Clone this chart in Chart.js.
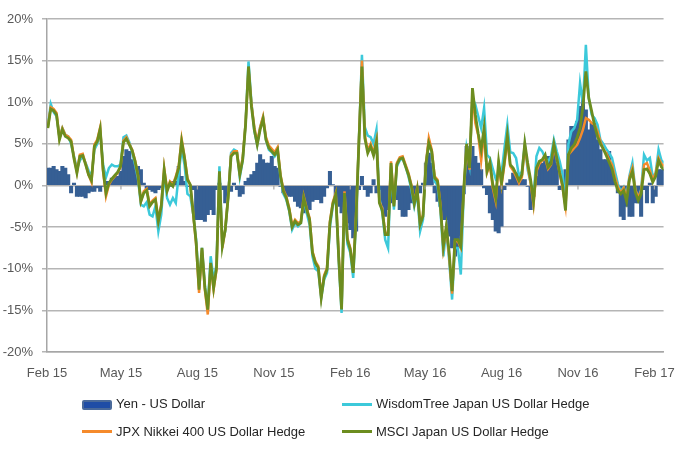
<!DOCTYPE html>
<html>
<head>
<meta charset="utf-8">
<script src="https://cdn.jsdelivr.net/npm/chart.js@4.4.1/dist/chart.umd.min.js"></script>
<style>
  html, body { margin: 0; padding: 0; background: #ffffff; }
  #wrap { position: relative; width: 689px; height: 458px; overflow: hidden; }
  canvas { position: absolute; left: 0; top: 0; }
  .lg-text { position: absolute; font-family: "Liberation Sans", Arial, sans-serif; font-size: 13px; line-height: 16px; color: #262626; white-space: nowrap; }
  .lg-box { position: absolute; box-sizing: border-box; }
</style>
</head>
<body>
<div id="wrap">
  <canvas id="chart" width="689" height="458"></canvas>
  <div id="legend"></div>
</div>
<script>
// ---- Data, percent values, one sample every 3.5 days from 2 Feb 2015 ----
const seriesNames = ['Yen - US Dollar', 'WisdomTree Japan US Dollar Hedge', 'JPX Nikkei 400 US Dollar Hedge', 'MSCI Japan US Dollar Hedge'];

const tickLabels = ['Feb 15', 'May 15', 'Aug 15', 'Nov 15', 'Feb 16', 'May 16', 'Aug 16', 'Nov 16', 'Feb 17'];
const tickDays = [0, 89, 181, 273, 365, 455, 547, 639, 731]; // days after 1 Feb 2015
const yTickValues = [-20, -15, -10, -5, 0, 5, 10, 15, 20];

const yenUsd = [
  2.1, 2.1, 2.3, 1.9, 1.7, 2.3, 2.1, 1.3, -0.9, 0.3,
  -1.3, -1.3, -1.3, -1.5, -0.9, -0.7, -0.7, -0.3, -0.7, -0.1,
  0.5, 0.5, 0.9, 1.1, 1.1, 1.7, 3.5, 4.3, 4.1, 3.1,
  2.5, 2.3, 1.9, 0.3, -0.5, -0.5, -0.7, -0.9, -0.5, -0.3,
  -0.1, -0.1, -0.1, 0.5, 0.5, 2.3, 1.1, 0.5, -0.1, -0.1,
  -0.5, -4.1, -4.1, -4.1, -4.3, -3.5, -2.9, -3.5, -0.5, 0.3,
  -0.5, -2.1, -0.5, -0.7, 0.3, -0.5, -1.3, -1.0, 0.5, 0.9,
  1.3, 1.7, 2.7, 3.7, 3.1, 2.7, 2.7, 3.5, 2.3, 2.1,
  -0.1, -0.9, -1.1, -1.3, -1.3, -1.9, -2.5, -2.7, -3.3, -3.1,
  -2.9, -1.9, -1.7, -1.7, -2.1, -1.3, -0.3, 1.7, 0.1, -1.7,
  -2.5, -3.3, -4.1, -4.5, -5.3, -6.3, -5.5, -0.5, 1.1, -0.5,
  -1.3, -0.9, 0.7, -0.9, -0.5, -2.5, -3.7, -2.9, -2.1, -1.7,
  -1.7, -2.9, -3.7, -3.7, -2.9, -2.1, -1.7, -0.9, -0.9, 0.3,
  2.7, 3.9, 2.7, -0.9, -1.9, -2.5, -4.1, -4.1, -6.1, -7.5,
  -8.5, -7.5, -6.0, -1.0, 4.7, 4.3, 4.7, 3.5, 2.7, 1.9,
  -0.3, -1.1, -3.3, -4.1, -5.5, -5.7, -4.9, -0.5, 0.3, 0.7,
  1.5, 1.5, 1.1, 0.7, 0.7, -0.1, -2.9, -1.3, 1.1, 2.7,
  2.7, 3.5, 3.5, 3.5, 4.3, 2.7, -0.5, -0.1, 1.9, 5.5,
  7.1, 7.1, 7.7, 9.5, 10.7, 9.1, 6.7, 7.5, 7.5, 5.5,
  4.3, 3.1, 3.1, 4.1, 2.3, 0.7, -0.9, -3.7, -4.1, -2.5,
  -3.7, -3.7, -2.1, -2.1, -3.7, -0.5, -2.1, 0.3, -2.1, -1.3,
  1.9, 1.9, 1.9
];

const wisdomTree = [
  7.0, 9.8, 8.8, 8.3, 5.8, 6.9, 6.1, 5.9, 5.0, 3.5,
  2.0, 3.0, 3.5, 2.7, 1.8, 1.0, 4.3, 5.0, 6.5, 2.5,
  1.0, 2.1, 2.5, 2.3, 2.3, 2.5, 5.8, 6.0, 5.2, 4.0,
  2.5, 0.8, -2.3, -2.5, -2.0, -3.5, -3.7, -2.5, -5.5, -3.5,
  1.5, -1.5, -2.3, -1.5, -2.1, 1.3, 4.5, 2.5, -1.0, -1.3,
  -3.5, -6.5, -12.0, -7.5, -12.0, -14.5, -8.5, -11.5, -9.5, 2.3,
  -7.0, -5.5, -1.3, 3.9, 4.3, 4.1, 1.0, 3.0, 7.5, 14.9,
  10.0, 6.5, 4.9, 7.0, 8.2, 5.5, 4.3, 4.0, 3.5, 4.1,
  1.0, -1.0, -1.7, -3.1, -5.3, -4.5, -4.9, -4.5, -1.7, -3.3,
  -4.7, -8.5, -10.0, -10.3, -13.5, -11.3, -10.5, -5.0, -2.4, -1.3,
  -8.9, -15.3, -1.3, -7.0, -8.1, -11.1, -4.0, 5.8, 15.7, 7.0,
  6.0, 5.8, 5.0, 6.7, -1.5, -3.3, -6.5, -7.5, 2.3, -2.9,
  2.3, 3.0, 3.3, 2.3, 1.1, -0.5, -2.5, -0.9, -5.5, -4.1,
  2.7, 5.3, 3.9, 0.5, 0.0, -3.0, -8.5, -5.3, -9.0, -13.7,
  -7.5, -7.5, -10.7, -1.0, 4.5, 2.5, 10.5, 9.7, 8.3, 6.9,
  9.3, 3.7, 3.3, 2.0, 0.8, 1.3, 1.5, 4.5, 7.3, 4.0,
  3.9, 3.3, 1.1, 1.7, 4.9, 1.9, 0.3, -1.5, 3.5, 4.5,
  4.1, 3.3, 2.9, 3.5, 5.5, 4.1, 2.9, 1.3, -2.0, 5.0,
  6.5, 6.9, 7.9, 12.3, 9.8, 16.9, 10.5, 8.5, 8.1, 7.3,
  5.5, 5.0, 4.4, 3.9, 3.3, 1.7, 0.2, -0.7, -0.2, -1.3,
  1.2, 2.7, -0.5, -1.5, -0.5, 3.7, 3.0, 3.3, 1.0, 1.5,
  4.3, 3.0, 2.7
];

const jpxNikkei = [
  7.0, 9.4, 9.2, 8.7, 5.7, 6.9, 6.1, 5.9, 5.5, 3.4,
  1.6, 3.7, 3.8, 2.6, 1.3, 0.4, 4.9, 5.5, 7.0, 1.7,
  -1.3, 0.1, 0.7, 1.1, 1.5, 2.2, 5.4, 5.8, 5.0, 4.3,
  3.0, 1.2, -1.9, -0.7, -0.4, -2.3, -1.8, -1.5, -4.1, -2.3,
  2.1, -0.5, 0.5, 0.1, 1.1, 2.3, 5.6, 3.5, 0.9, 0.0,
  -3.5, -7.1, -12.9, -7.7, -12.5, -15.5, -9.5, -12.5, -10.1, 1.5,
  -7.5, -5.3, -1.3, 3.7, 4.1, 4.1, 1.5, 3.3, 7.5, 14.0,
  9.8, 7.0, 5.2, 7.0, 8.3, 5.8, 4.8, 4.4, 4.0, 4.6,
  1.3, -0.5, -1.3, -2.7, -4.8, -4.1, -4.5, -4.3, -1.3, -2.7,
  -3.9, -7.9, -9.1, -9.7, -13.3, -10.8, -9.9, -4.3, -2.0, -0.9,
  -8.3, -14.7, -0.7, -6.3, -7.5, -10.3, -3.5, 5.7, 15.0, 6.0,
  4.2, 5.0, 3.9, 5.5, -1.9, -2.8, -5.7, -5.7, 2.9, -2.3,
  2.7, 3.4, 3.5, 2.5, 1.5, 0.1, -2.0, -0.3, -4.5, -3.5,
  2.7, 5.7, 4.3, 1.1, 0.7, -2.3, -7.5, -5.1, -8.5, -13.0,
  -6.7, -6.7, -7.5, -0.7, 4.8, 1.9, 11.0, 7.5, 6.0, 3.0,
  6.3, 1.5, 2.5, -0.3, -1.9, 2.5, 0.0, 2.5, 5.5, 2.3,
  1.8, 1.1, 0.3, 1.0, 4.7, 2.3, 0.3, -2.3, 1.7, 2.6,
  3.0, 3.3, 2.0, 2.5, 4.5, 3.2, 1.5, -0.3, -2.5, 3.7,
  4.1, 4.5, 4.9, 5.7, 6.7, 8.1, 7.9, 7.5, 7.3, 6.5,
  5.3, 4.3, 3.9, 3.1, 2.5, 1.0, -0.2, -0.9, -0.3, -1.5,
  1.0, 2.1, -0.5, -1.5, -0.6, 2.5, 2.7, 1.8, 0.7, 1.5,
  3.3, 2.6, 2.3
];

const msciJapan = [
  6.9, 9.2, 9.0, 8.5, 5.5, 6.7, 5.9, 5.7, 5.3, 3.2,
  1.5, 3.5, 3.6, 2.5, 1.3, 0.6, 4.7, 5.3, 6.8, 1.9,
  -0.9, 0.3, 0.8, 1.2, 1.6, 2.3, 5.2, 5.6, 4.9, 4.2,
  2.9, 1.2, -1.9, -0.9, -0.6, -2.5, -2.0, -1.7, -4.3, -2.5,
  1.9, -0.7, 0.3, -0.1, 0.9, 2.1, 5.3, 3.3, 0.7, 0.1,
  -3.3, -6.9, -12.5, -7.5, -12.3, -14.9, -9.3, -12.3, -9.9, 1.7,
  -7.3, -5.3, -1.5, 3.5, 3.9, 3.9, 1.3, 3.1, 7.3, 14.3,
  9.5, 6.7, 4.9, 6.7, 8.0, 5.5, 4.5, 4.1, 3.7, 4.3,
  1.1, -0.7, -1.5, -2.9, -5.0, -4.3, -4.7, -4.5, -1.5, -2.9,
  -4.1, -8.1, -9.3, -9.9, -13.5, -11.0, -10.1, -4.5, -2.2, -1.1,
  -8.5, -14.9, -0.9, -6.5, -7.7, -10.5, -3.7, 5.5, 14.3, 5.7,
  3.9, 4.7, 3.6, 5.2, -2.1, -3.0, -5.9, -5.9, 2.7, -2.5,
  2.5, 3.2, 3.3, 2.3, 1.3, -0.1, -2.2, -0.5, -4.7, -3.7,
  2.5, 5.1, 4.1, 0.9, 0.5, -2.5, -7.3, -4.9, -8.0, -12.7,
  -6.5, -6.5, -7.3, -0.5, 5.0, 2.1, 11.7, 8.5, 6.2, 4.3,
  6.9, 1.7, 2.8, 0.1, -1.5, 2.9, 0.3, 2.9, 6.0, 2.5,
  2.1, 1.4, 0.6, 1.3, 5.1, 2.7, 0.7, -1.9, 2.1, 2.9,
  3.1, 3.7, 2.2, 2.6, 5.0, 3.3, 1.5, 0.0, -3.0, 3.7,
  4.5, 4.9, 5.8, 6.9, 9.5, 13.7, 10.5, 8.9, 7.2, 5.9,
  5.0, 4.4, 3.6, 2.8, 2.0, 0.5, -0.6, -1.0, -0.6, -1.9,
  0.7, 1.7, -0.8, -1.8, -1.0, 1.9, 2.0, 1.4, 0.4, 1.1,
  3.0, 2.2, 1.9
];

// sample dates: days after 1 Feb 2015 (first sample 2 Feb 2015, every 3.5 days)
const sampleDays = yenUsd.map((_, i) => 1 + 3.5 * i);
const lastDay = 742;

const colors = {
  yen: '#365F94',
  yenLegendFill: '#1F4DA6',
  yenLegendBorder: '#4A6A9A',
  wisdom: '#3CC9DA',
  jpx: '#F58A2B',
  msci: '#6C8D1F'
};

const pts = vals => vals.map((v, i) => ({ x: sampleDays[i], y: v }));
const FONT = '"Liberation Sans", Arial, sans-serif';

// small tick marks on the zero line at each quarter (as the category axis crosses at 0 in the reference)
const zeroTicks = {
  id: 'zeroTicks',
  afterDatasetsDraw(chart) {
    const { ctx, scales: { x, y } } = chart;
    const y0 = y.getPixelForValue(0);
    ctx.save();
    ctx.strokeStyle = '#A6A6A6';
    ctx.lineWidth = 1.2;
    tickDays.forEach(d => {
      const px = x.getPixelForValue(d);
      if (px <= x.left + 1) return;
      ctx.beginPath();
      ctx.moveTo(px, y0);
      ctx.lineTo(px, y0 + 4);
      ctx.stroke();
    });
    ctx.restore();
  }
};

new Chart(document.getElementById('chart'), {
  type: 'bar',
  data: {
    datasets: [
      { type: 'line', label: seriesNames[3], data: pts(msciJapan), borderColor: colors.msci, borderWidth: 2.8, pointRadius: 0, tension: 0, order: 1 },
      { type: 'line', label: seriesNames[2], data: pts(jpxNikkei), borderColor: colors.jpx, borderWidth: 2.5, pointRadius: 0, tension: 0, order: 2 },
      { type: 'line', label: seriesNames[1], data: pts(wisdomTree), borderColor: colors.wisdom, borderWidth: 2.5, pointRadius: 0, tension: 0, order: 3 },
      { type: 'bar', label: seriesNames[0], data: pts(yenUsd), backgroundColor: colors.yen, borderWidth: 0, barThickness: 3.4, grouped: false, order: 4 }
    ]
  },
  options: {
    responsive: false,
    animation: false,
    events: [],
    layout: { padding: { top: 19, right: 23, left: 0, bottom: 0 } },
    plugins: { legend: { display: false }, tooltip: { enabled: false } },
    scales: {
      x: {
        type: 'linear',
        min: 0,
        max: lastDay,
        offset: false,
        afterBuildTicks: s => { s.ticks = tickDays.map(v => ({ value: v })); },
        afterFit: s => { s.height = 106; },
        grid: { display: false, drawTicks: false },
        border: { display: true, color: '#A6A6A6', width: 1.5 },
        ticks: {
          autoSkip: false, maxRotation: 0, padding: 14, color: '#595959',
          font: { family: FONT, size: 13 },
          callback: (v, i) => tickLabels[i]
        }
      },
      y: {
        min: -20,
        max: 20,
        afterBuildTicks: s => { s.ticks = yTickValues.map(v => ({ value: v })); },
        afterFit: s => { s.width = 47; },
        grid: { color: '#B5B5B5', lineWidth: 1.5, tickLength: 5 },
        border: { display: true, color: '#A6A6A6', width: 1.5 },
        ticks: {
          padding: 9, color: '#595959',
          font: { family: FONT, size: 13 },
          callback: v => v + '%'
        }
      }
    }
  },
  plugins: [zeroTicks]
});

// ---- Legend (2 x 2 grid, as in the reference) ----
const legendItems = [
  { name: seriesNames[0], kind: 'box', left: 82, cy: 404 },
  { name: seriesNames[1], kind: 'line', color: colors.wisdom, left: 342, cy: 404 },
  { name: seriesNames[2], kind: 'line', color: colors.jpx, left: 82, cy: 431.5 },
  { name: seriesNames[3], kind: 'line', color: colors.msci, left: 342, cy: 431.5 }
];
const legend = document.getElementById('legend');
legendItems.forEach(it => {
  const mk = document.createElement('div');
  mk.className = 'lg-box';
  if (it.kind === 'box') {
    Object.assign(mk.style, { left: it.left + 'px', top: (it.cy - 4.5) + 'px', width: '30px', height: '10px',
      background: colors.yenLegendFill, border: '2px solid ' + colors.yenLegendBorder, borderRadius: '2px' });
  } else {
    Object.assign(mk.style, { left: it.left + 'px', top: (it.cy - 1.5) + 'px', width: '30px', height: '3px', background: it.color });
  }
  legend.appendChild(mk);
  const tx = document.createElement('div');
  tx.className = 'lg-text';
  tx.textContent = it.name;
  Object.assign(tx.style, { left: (it.left + 34) + 'px', top: (it.cy - 8) + 'px' });
  legend.appendChild(tx);
});
</script>
</body>
</html>
